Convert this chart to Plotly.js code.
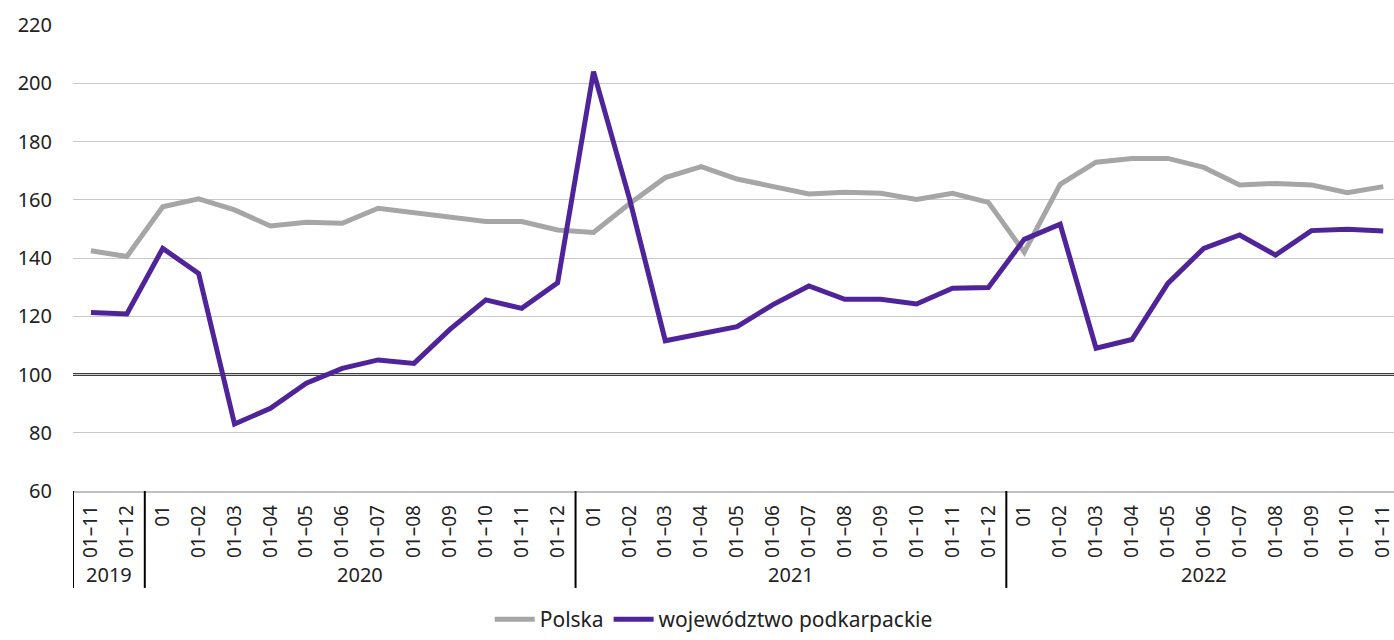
<!DOCTYPE html>
<html>
<head>
<meta charset="utf-8">
<script src="https://cdn.plot.ly/plotly-3.0.1.min.js"></script>
<style>html,body{margin:0;padding:0;background:#fff;}#chart{width:1394px;height:640px;}</style>
</head>
<body>
<div id="chart"></div>
<script>
const years = ["2019", "2020", "2021", "2022"];
const periods = [
  "01–11","01–12",
  "01","01–02","01–03","01–04","01–05","01–06","01–07","01–08","01–09","01–10","01–11","01–12",
  "01","01–02","01–03","01–04","01–05","01–06","01–07","01–08","01–09","01–10","01–11","01–12",
  "01","01–02","01–03","01–04","01–05","01–06","01–07","01–08","01–09","01–10","01–11"
];
const periodYears = [
  "2019","2019",
  "2020","2020","2020","2020","2020","2020","2020","2020","2020","2020","2020","2020",
  "2021","2021","2021","2021","2021","2021","2021","2021","2021","2021","2021","2021",
  "2022","2022","2022","2022","2022","2022","2022","2022","2022","2022","2022"
];
const polska = [
  142.5, 140.5,
  157.6, 160.3, 156.5, 151.0, 152.3, 151.9, 157.1, 155.7, 154.2, 152.5, 152.5, 149.6,
  148.8, 158.6, 167.6, 171.4, 167.1, 164.7, 162.0, 162.6, 162.2, 160.1, 162.2, 159.1,
  142.0, 165.3, 172.9, 174.2, 174.2, 171.1, 165.1, 165.6, 165.1, 162.4, 164.5
];
const podkarpackie = [
  121.3, 120.8,
  143.3, 134.7, 83.0, 88.4, 97.0, 102.1, 105.0, 103.8, 115.5, 125.6, 122.7, 131.5,
  204.0, 160.5, 111.6, 114.1, 116.4, 124.0, 130.4, 125.8, 125.8, 124.2, 129.6, 129.9,
  146.4, 151.6, 109.0, 112.0, 131.3, 143.3, 147.9, 141.0, 149.4, 149.9, 149.3
];

const idx = periods.map((_, i) => i);

const traces = [
  {x: idx, y: polska, name: "Polska", type: "scatter", mode: "lines",
   line: {color: "#a6a6a6", width: 5}},
  {x: idx, y: podkarpackie, name: "województwo podkarpackie", type: "scatter", mode: "lines",
   line: {color: "#4f2399", width: 5}}
];

const shapes = [];
const annotations = [];
let start = 0;
years.forEach((yr) => {
  const count = periodYears.filter(p => p === yr).length;
  const end = start + count;
  shapes.push({type: "line", xref: "x", yref: "paper", x0: start - 0.5, x1: start - 0.5,
    y0: 0, y1: -0.208, line: {color: "#000", width: 2}});
  annotations.push({xref: "x", yref: "paper", x: (start + end - 1) / 2, y: -0.18,
    text: yr, showarrow: false, yanchor: "middle",
    font: {family: "Noto Sans, Open Sans, sans-serif", size: 20, color: "#222"}});
  start = end;
});
shapes.push({type: "line", xref: "paper", yref: "y", x0: 0, x1: 1, y0: 100, y1: 100,
  line: {color: "#000", width: 2.5}, layer: "between"});

const layout = {
  width: 1394, height: 640,
  margin: {l: 73, r: 0, t: 25, b: 149},
  paper_bgcolor: "#fff", plot_bgcolor: "#fff",
  font: {family: "Noto Sans, Open Sans, sans-serif", size: 19, color: "#222"},
  showlegend: true,
  legend: {orientation: "h", xref: "container", yref: "container",
    x: 0.512, xanchor: "center", y: 0.0, yanchor: "bottom",
    font: {size: 21, color: "#222"}, itemwidth: 40, tracegroupgap: 0},
  xaxis: {
    type: "linear", range: [-0.5, 36.3], automargin: false,
    tickmode: "array", tickvals: idx, ticktext: periods,
    tickangle: -90, ticks: "", showgrid: false, zeroline: false,
    showline: true, linecolor: "#bfbfbf", linewidth: 1.5,
    ticklabelstandoff: 5, ticklabeloverflow: "allow",
    tickfont: {size: 19, color: "#222"}
  },
  yaxis: {
    range: [60, 220], dtick: 20, tick0: 60, automargin: false,
    showgrid: true, gridcolor: "#c8c8c8", gridwidth: 1,
    zeroline: false, showline: false, ticks: "",
    ticklabelstandoff: 20,
    tickfont: {size: 20, color: "#222"}
  },
  shapes: shapes,
  annotations: annotations
};

Plotly.newPlot("chart", traces, layout, {displayModeBar: false, staticPlot: true});
</script>
</body>
</html>
